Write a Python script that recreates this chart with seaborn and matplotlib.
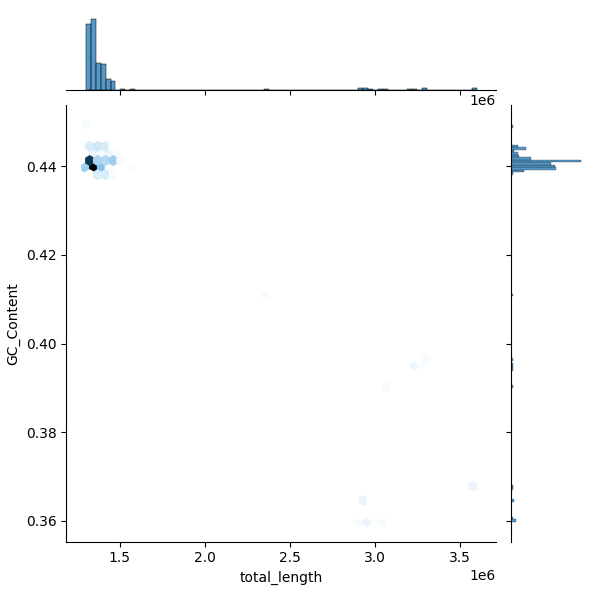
import numpy as np
import pandas as pd
import matplotlib
matplotlib.use("Agg")
import matplotlib.pyplot as plt
import seaborn as sns
from seaborn.utils import set_hls_values

# Genome assemblies: total length (bp), GC fraction, and how many assemblies share that value
total_length = [
    # main cluster
    1300000, 1308000, 1308000, 1306000,
    1320000, 1320000,
    1318000, 1318000, 1318000, 1318000, 1335000,
    1369000, 1372000,
    1410000, 1410000,
    1345000, 1350000, 1392000, 1432000, 1440000, 1470000,
    1352000, 1366000, 1369000,
    1405000, 1410000, 1410000, 1420000,
    1442000, 1458000, 1461000, 1465000,
    1510000,
    1340000, 1350000, 1340000, 1350000, 1343000, 1350000,
    1382000, 1395000, 1382000, 1395000, 1385000, 1395000,
    1435000, 1576000,
    1369000, 1410000, 1465000,
    # outlying assemblies
    2350000,
    2905000, 2950000, 2965000, 3040000,
    2925000, 2935000,
    3060000,
    3212000, 3230000, 3285000, 3298000,
    3585000, 3600000,
]
gc_content = [
    0.4493, 0.4395, 0.4401, 0.4404,
    0.4446, 0.4440,
    0.4421, 0.4418, 0.4412, 0.4408, 0.4412,
    0.4446, 0.4440,
    0.4446, 0.4440,
    0.4429, 0.4434, 0.4429, 0.4429, 0.4434, 0.4429,
    0.4412, 0.4418, 0.4421,
    0.4412, 0.4418, 0.4408, 0.4421,
    0.4412, 0.4418, 0.4421, 0.4408,
    0.4412,
    0.4395, 0.4395, 0.4401, 0.4401, 0.4404, 0.4404,
    0.4395, 0.4395, 0.4401, 0.4401, 0.4404, 0.4404,
    0.4401, 0.4395,
    0.4388, 0.4388, 0.4383,
    0.4108,
    0.3598, 0.3600, 0.3601, 0.3606,
    0.3647, 0.3645,
    0.3901,
    0.3950, 0.3951, 0.3944, 0.3966,
    0.3677, 0.3676,
]
n_assemblies = [
    1, 4, 4, 2,
    1, 3,
    2, 6, 25, 3, 1,
    2, 3,
    1, 3,
    1, 1, 1, 1, 1, 1,
    6, 2, 1,
    4, 2, 1, 1,
    5, 2, 1, 2,
    1,
    9, 8, 9, 8, 6, 6,
    3, 2, 3, 1, 3, 1,
    1, 1,
    4, 4, 1,
    1,
    1, 1, 1, 1,
    1, 1,
    1,
    1, 1, 1, 1,
    1, 1,
]

df = pd.DataFrame({
    "total_length": np.repeat(total_length, n_assemblies),
    "GC_Content": np.repeat(gc_content, n_assemblies),
})

color_rgb = matplotlib.colors.to_rgb("C0")
colors = [set_hls_values(color_rgb, l=v) for v in np.linspace(1, 0, 12)]
cmap = sns.blend_palette(colors, as_cmap=True)

g = sns.JointGrid(data=df, x="total_length", y="GC_Content", height=6)
g.plot_joint(plt.hexbin, gridsize=50, cmap=cmap)
sns.histplot(x=df["total_length"], bins=79, ax=g.ax_marg_x, color="C0")
sns.histplot(y=df["GC_Content"], bins=160, ax=g.ax_marg_y, color="C0")
for ax in (g.ax_marg_x, g.ax_marg_y):
    ax.set_xlabel("")
    ax.set_ylabel("")
g.ax_joint.set_xlabel("total_length")
g.ax_joint.set_ylabel("GC_Content")

g.figure.savefig("out.png", dpi=100)
